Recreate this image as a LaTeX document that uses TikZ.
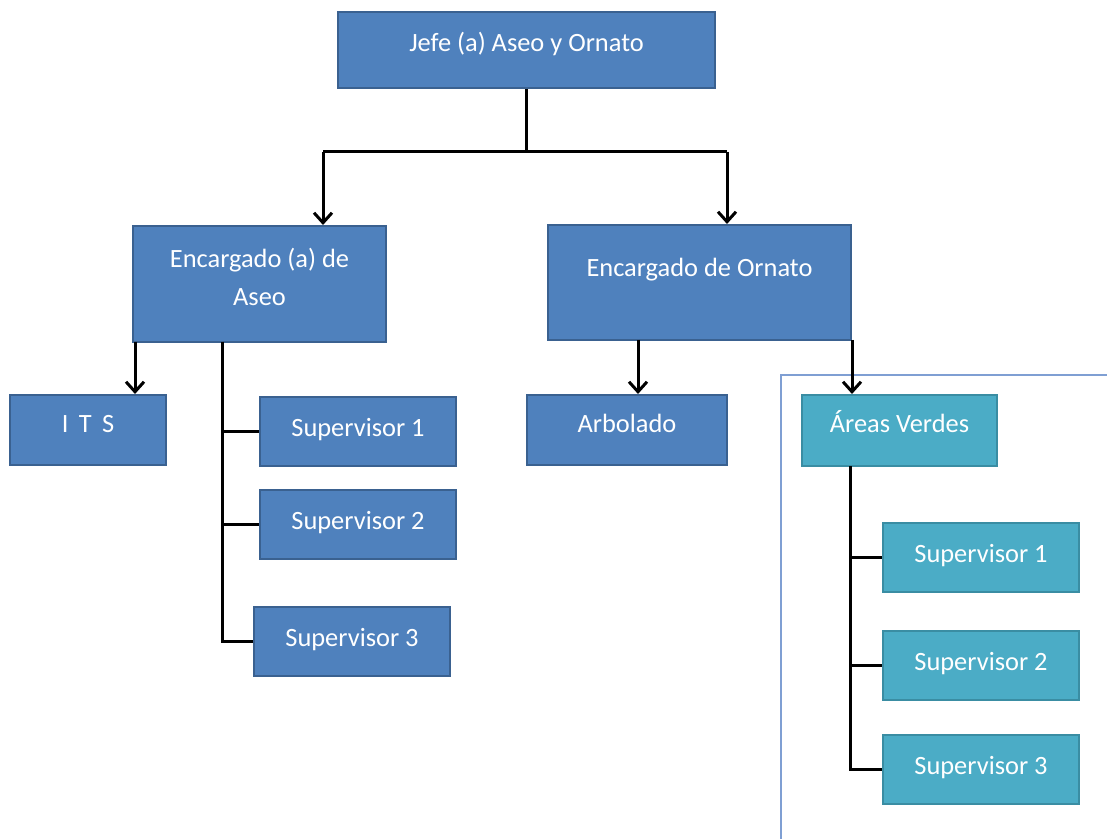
\documentclass[tikz,border=0pt]{standalone}
\usepackage{fontspec}
\setmainfont{Carlito}
\usetikzlibrary{arrows.meta, positioning}
\definecolor{boxfill}{HTML}{4F81BD}
\definecolor{boxedge}{HTML}{3A6190}
\definecolor{tealfill}{HTML}{4BACC6}
\definecolor{tealedge}{HTML}{3A8DA3}
\definecolor{framecol}{HTML}{7F9FD3}

\begin{document}
\begin{tikzpicture}[x=0.5pt,y=-0.5pt,>={Straight Barb[length=5pt,width=9pt]},
  line width=1.5pt,
  base/.style={rectangle,draw=boxedge,fill=boxfill,line width=1pt,text=white,
    font=\fontsize{13.2}{16}\selectfont,align=center,inner sep=0pt},
  main node/.style={base,text height=9pt,text depth=4pt},
  top node/.style={main node,text depth=7pt},
  green node/.style={draw=tealedge,fill=tealfill},
  sup node/.style={main node,minimum width=98pt,minimum height=34.5pt}]
  \useasboundingbox (0,0) rectangle (1107,839);

  \draw[framecol,line width=0.75pt] (781,839) |- (1107,375);

  \node[top node,minimum width=188.5pt,minimum height=38pt] (1) at (526.5,50) {Jefe (a) Aseo y Ornato};
  \node[base,minimum width=126.5pt,minimum height=58pt] (2) at (259.5,284) {Encargado (a) de\\[3pt]Aseo\\[-9pt]\mbox{}};
  \node[base,minimum width=151.5pt,minimum height=57.5pt] (3) at (699.5,282.5) {Encargado de Ornato\\[-1pt]\mbox{}};

  %Aseo
  \node[top node,minimum width=78pt,minimum height=35pt] (4) at (88,430) {I~\,T~\,S};
  \node[sup node] (5) at (358,431.5) {Supervisor 1};
  \node[sup node] (6) [below=11pt of 5] {Supervisor 2};
  \node[sup node] (7) at (352,641) {Supervisor 3};

  %Ornato
  \node[top node,minimum width=100pt,minimum height=35pt] (8) at (627,430) {Arbolado};
  \node[top node,green node,minimum width=97.5pt,minimum height=35.5pt] (9) at (899.5,430.5) {Áreas Verdes};
  \node[sup node,green node] (10) at (981,557.5) {Supervisor 1};
  \node[sup node,green node] (11) [below=18.5pt of 10] {Supervisor 2};
  \node[sup node,green node] (12) [below=16.5pt of 11] {Supervisor 3};

  \coordinate (j1) at (323,152);
  \coordinate (j2) at (727,152);
  \coordinate (a1) at (135,342);
  \coordinate (a2) at (222,342);
  \coordinate (o1) at (638,340);
  \coordinate (o2) at (852,340);
  \coordinate (v1) at (850,466);

  \draw (1.south) -- (1.south |- j1);
  \draw (j1) -- (j2);
  \draw[->] (j1) -- (j1 |- 2.north);
  \draw[->] (j2) -- (j2 |- 3.north);
  \draw[->] (a1) -- (a1 |- 4.north);
  \draw (a2) |- (5.west);
  \draw (a2) |- (6.west);
  \draw (a2) |- (7.west);
  \draw[->] (o1) -- (o1 |- 8.north);
  \draw[->] (o2) -- (o2 |- 9.north);
  \draw (v1) |- (10.west);
  \draw (v1) |- (11.west);
  \draw (v1) |- (12.west);
\end{tikzpicture}
\end{document}
